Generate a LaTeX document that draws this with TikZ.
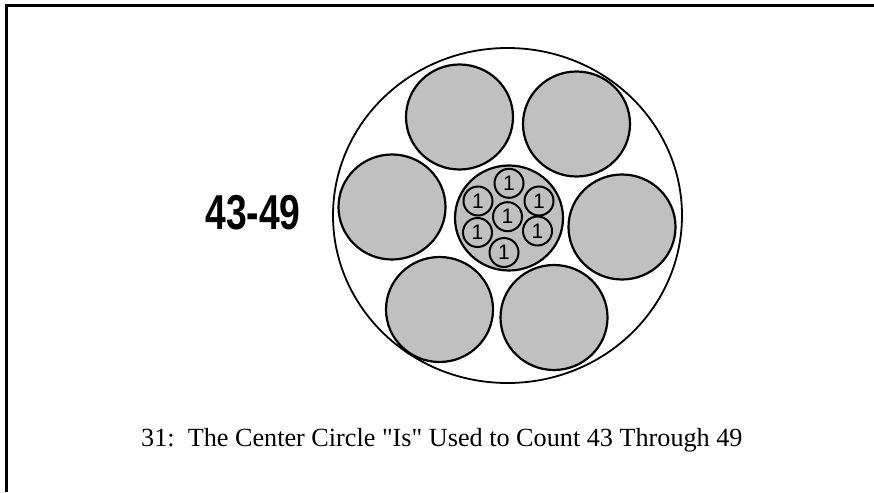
\documentclass[tikz,border=0pt]{standalone}
\usepackage{fontspec}
\setmainfont{Liberation Serif}
\newfontfamily\numfont[FakeStretch=0.76]{Liberation Sans Bold}
\newfontfamily\digitfont{Liberation Sans}
\usepackage{tikz}
\usetikzlibrary{shapes.geometric}
\definecolor{bundlegray}{RGB}{192,192,192}

\begin{document}
\begin{tikzpicture}[
    x=1pt, y=-1pt,
    ring/.style={draw, ellipse, line width=1.8pt, inner sep=0pt},
    bundle/.style={draw, ellipse, fill=bundlegray, line width=2.2pt, inner sep=0pt,
                   minimum width=107pt, minimum height=105pt},
    unit/.style={draw, circle, fill=bundlegray, line width=2pt, inner sep=0pt,
                 minimum size=29pt, font=\digitfont\fontsize{21}{21}\selectfont},
    frame/.style={line width=2.4pt}
]
\useasboundingbox (0,0) rectangle (874,492);
\draw[frame] (6.5,492) -- (6.5,5.5) -- (874,5.5);

% outer ring and the six bundles of ten
\node[ring, minimum width=349pt, minimum height=335pt] (outer) at (507.5,215.5) {};
\node[bundle] (b1) at (459.5,117) {};
\node[bundle] (b2) at (576.5,124) {};
\node[bundle] (b3) at (392,207) {};
\node[bundle] (b4) at (622,227) {};
\node[bundle] (b5) at (439.5,309.5) {};
\node[bundle] (b6) at (554,317.5) {};

% center circle with the ones
\node[bundle, minimum width=108pt, minimum height=105pt] (hub) at (509,218) {};
\node[unit] (u1) at (509,183.3) {1};
\node[unit] (u2) at (478,201) {1};
\node[unit] (u3) at (539,201) {1};
\node[unit] (u4) at (507.5,216.7) {1};
\node[unit] (u5) at (477.5,232.5) {1};
\node[unit] (u6) at (537.5,231) {1};
\node[unit] (u7) at (504,252.5) {1};

\node[font=\numfont\fontsize{49}{49}\selectfont] (count) at (253,212.5) {43-49};
\node[anchor=base west, inner sep=0pt, font=\fontsize{26.2}{30}\selectfont] (caption)
     at (141,446.5) {31:\ \ The Center Circle \textquotedbl Is\textquotedbl{} Used to Count 43 Through 49};
\end{tikzpicture}
\end{document}
